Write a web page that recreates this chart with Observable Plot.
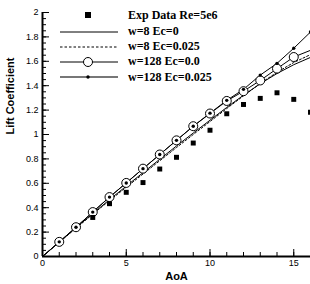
<!DOCTYPE html>
<html>
<head>
<meta charset="utf-8">
<script src="https://cdn.jsdelivr.net/npm/d3@7"></script>
<script src="https://cdn.jsdelivr.net/npm/@observablehq/plot@0.6"></script>
<style>
  html, body { margin: 0; padding: 0; background: #fff; }
  #wrap { position: relative; width: 310px; height: 284px; }
  #legend { position: absolute; left: 0; top: 0; font-family: "Liberation Serif", "Times New Roman", serif; font-weight: bold; font-size: 12px; color: #000; }
  .row { position: absolute; left: 60px; height: 14px; display: flex; align-items: center; white-space: nowrap; }
  .row svg { display: block; }
  .row span { margin-left: 10px; }
</style>
</head>
<body>
<div id="wrap"></div>
<script>
// AoA values
const aoa = [0,1,2,3,4,5,6,7,8,9,10,11,12,13,14,15,16];
// Experimental data
const expAoA = [3,4,5,6,7,8,9,10,11,12,13,14,15,16];
const expCl  = [0.32,0.433,0.526,0.606,0.717,0.813,0.93,1.035,1.17,1.246,1.296,1.342,1.288,1.183];
// w=8 Ec=0 (solid)
const w8e0   = [0,0.118,0.236,0.352,0.466,0.577,0.687,0.797,0.906,1.012,1.117,1.222,1.322,1.416,1.5,1.572,1.632];
// w=8 Ec=0.025 (dashed)
const w8e025 = [0,0.116,0.232,0.347,0.458,0.568,0.676,0.785,0.893,1.0,1.106,1.213,1.317,1.418,1.51,1.59,1.655];
// w=128 Ec=0.0 (open circles)
const w128e0 = [0,0.12,0.24,0.364,0.487,0.603,0.72,0.836,0.952,1.068,1.172,1.275,1.355,1.443,1.54,1.635,1.69];
// w=128 Ec=0.025 (small dots)
const w128e025 = [0,0.12,0.24,0.364,0.487,0.603,0.72,0.836,0.952,1.068,1.175,1.28,1.37,1.487,1.583,1.707,1.84];
const seriesNames = ["Exp Data Re=5e6","w=8 Ec=0","w=8 Ec=0.025","w=128 Ec=0.0","w=128 Ec=0.025"];
const xMajor = [0,5,10,15];
const xMinor = d3.range(0,17,1);
const yMajor = [0,0.2,0.4,0.6,0.8,1,1.2,1.4,1.6,1.8,2];
const yMinor = d3.range(0,2.0001,0.05).map(v => +v.toFixed(2));

const exp = expAoA.map((a,i) => ({a, cl: expCl[i]}));
const mk = arr => aoa.map((a,i) => ({a, cl: arr[i]}));
const s1 = mk(w8e0), s2 = mk(w8e025), s3 = mk(w128e0), s4 = mk(w128e025);

const W = 310, H = 284, mL = 42, mR = 0, mT = 12, mB = 28;
const innerW = W - mL - mR, innerH = H - mT - mB;

const chart = Plot.plot({
  width: W,
  height: H,
  marginLeft: mL,
  marginRight: mR,
  marginTop: mT,
  marginBottom: mB,
  style: {fontFamily: "'Liberation Sans', Arial, sans-serif", fontSize: "9px", background: "#fff", overflow: "visible"},
  x: {domain: [0,16]},
  y: {domain: [0,2]},
  marks: [
    Plot.line(s1, {x: "a", y: "cl", stroke: "#000", strokeWidth: 1}),
    Plot.line(s2, {x: "a", y: "cl", stroke: "#000", strokeWidth: 1, strokeDasharray: "2,2"}),
    Plot.line(s3, {x: "a", y: "cl", stroke: "#000", strokeWidth: 1}),
    Plot.line(s4, {x: "a", y: "cl", stroke: "#000", strokeWidth: 1}),
    Plot.dot(s3.filter(d => d.a >= 1 && d.a <= 15), {x: "a", y: "cl", r: 4.5, fill: "#fff", stroke: "#000", strokeWidth: 1}),
    Plot.dot(s4.filter(d => d.a >= 1), {x: "a", y: "cl", r: 1.7, fill: "#000", stroke: "none"}),
    Plot.dot(exp, {x: "a", y: "cl", symbol: "square", r: 2.8, fill: "#000", stroke: "none"}),
    // inward ticks
    Plot.tickX(xMinor, {x: d => d, insetTop: innerH - 4, stroke: "#000", strokeWidth: 1}),
    Plot.tickX(xMajor, {x: d => d, insetTop: innerH - 7, stroke: "#000", strokeWidth: 1}),
    Plot.tickY(yMinor, {y: d => d, insetRight: innerW - 4, stroke: "#000", strokeWidth: 1}),
    Plot.tickY(yMajor, {y: d => d, insetRight: innerW - 7, stroke: "#000", strokeWidth: 1}),
    // tick labels
    Plot.axisX(xMajor, {tickSize: 0, tickPadding: 3, tickFormat: d => String(d), label: null}),
    Plot.axisY(yMajor, {tickSize: 0, tickPadding: 4, tickFormat: d => String(+d.toFixed(1)), label: null}),
    Plot.ruleX([0], {stroke: "#000", strokeWidth: 2}),
    Plot.ruleY([0], {stroke: "#000", strokeWidth: 2}),
    Plot.text(["AoA"], {frameAnchor: "bottom", dy: 23, fontWeight: "bold", fontSize: 11, fill: "#000"}),
    Plot.text(["Lift Coefficient"], {frameAnchor: "left", dx: -32, rotate: -90, fontWeight: "bold", fontSize: 11, fill: "#000"})
  ]
});

const wrap = document.getElementById("wrap");
wrap.appendChild(chart);

// Legend overlay (HTML)
const legend = document.createElement("div");
legend.id = "legend";
const swatches = [
  `<svg width="58" height="12"><rect x="25" y="3" width="6" height="6" fill="#000"/></svg>`,
  `<svg width="58" height="12"><line x1="0" x2="58" y1="6" y2="6" stroke="#000" stroke-width="1"/></svg>`,
  `<svg width="58" height="12"><line x1="0" x2="58" y1="6" y2="6" stroke="#000" stroke-width="1" stroke-dasharray="2.5,2"/></svg>`,
  `<svg width="58" height="12"><line x1="0" x2="58" y1="6" y2="6" stroke="#000" stroke-width="1"/><circle cx="28" cy="6" r="4.5" fill="#fff" stroke="#000"/></svg>`,
  `<svg width="58" height="12"><line x1="0" x2="58" y1="6" y2="6" stroke="#777" stroke-width="2"/><circle cx="28" cy="6" r="1.7" fill="#000"/></svg>`
];
const tops = [8, 24.5, 39.5, 54.5, 70];
seriesNames.forEach((name, i) => {
  const row = document.createElement("div");
  row.className = "row";
  row.style.top = tops[i] + "px";
  row.innerHTML = swatches[i] + `<span>${name}</span>`;
  legend.appendChild(row);
});
wrap.appendChild(legend);
</script>
</body>
</html>
